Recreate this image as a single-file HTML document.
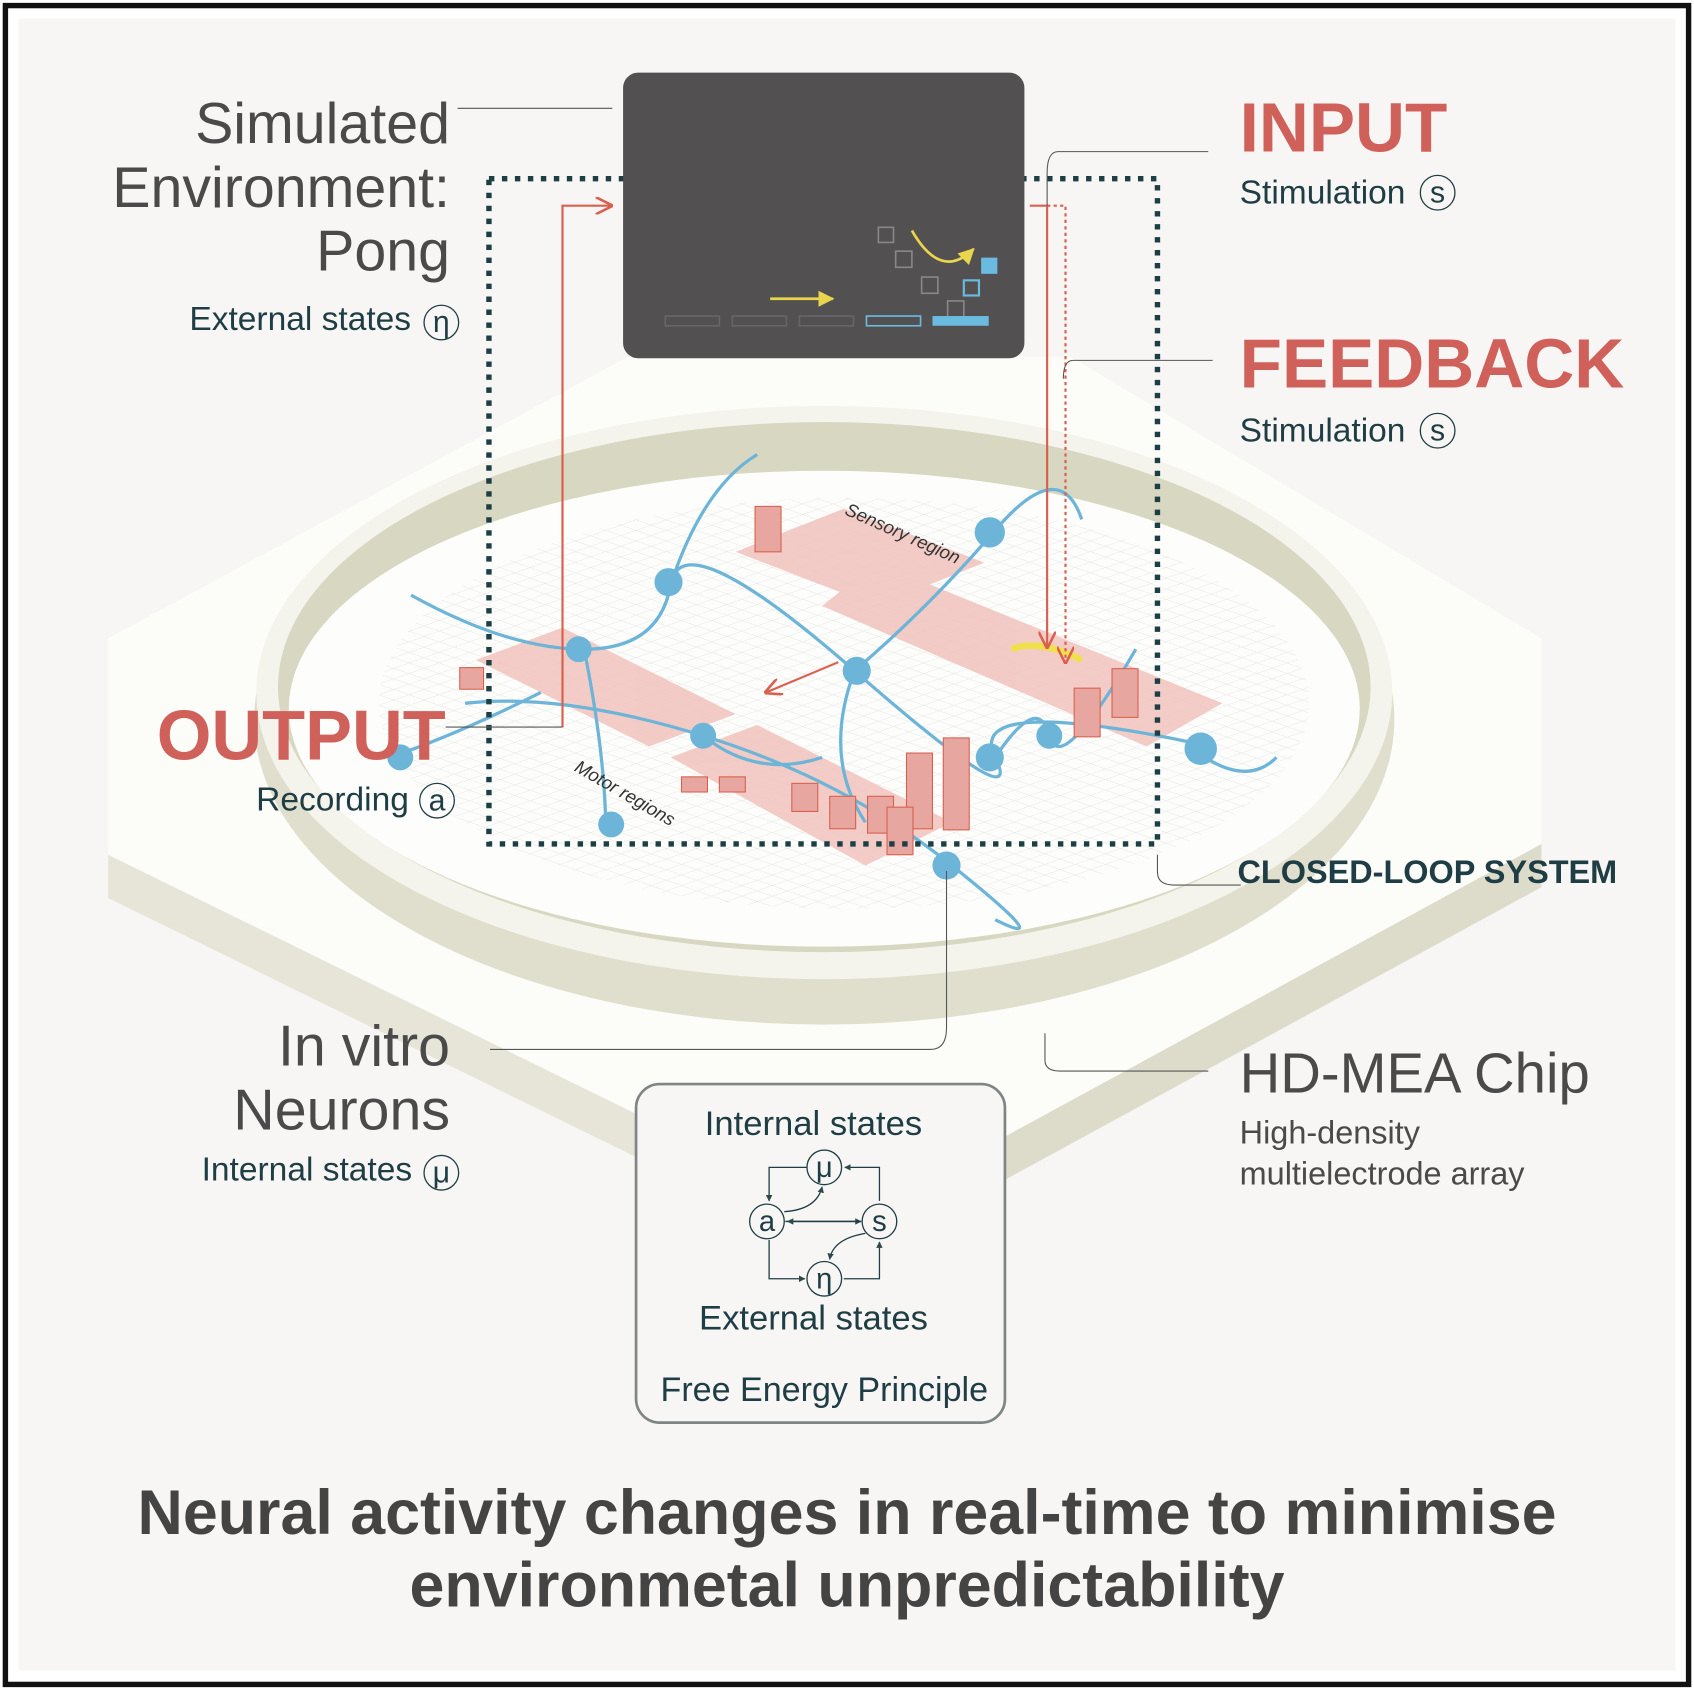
<!DOCTYPE html>
<html><head><meta charset="utf-8"><style>
html,body{margin:0;padding:0;background:#fff}
svg{display:block}
text{font-family:"Liberation Sans",sans-serif}
</style></head><body>
<svg width="1694" height="1690" viewBox="0 0 1566 1562" xmlns="http://www.w3.org/2000/svg">
<defs>
<pattern id="grid" width="14" height="14" patternUnits="userSpaceOnUse" patternTransform="matrix(1,0.35,-1,0.35,0,0)">
<path d="M0 0H14M0 0V14" stroke="#ddd" stroke-width="1" fill="none"/>
</pattern>
<marker id="ar" viewBox="0 0 10 10" refX="9" refY="5" markerWidth="8" markerHeight="8" orient="auto"><path d="M0 0L10 5L0 10" fill="none" stroke="#d9604f" stroke-width="1.5"/></marker>
<marker id="ay" viewBox="0 0 10 10" refX="9" refY="5" markerWidth="6" markerHeight="6" orient="auto"><path d="M0 0L10 5L0 10z" fill="#e8d44d"/></marker>
<marker id="ak" viewBox="0 0 10 10" refX="9" refY="5" markerWidth="5" markerHeight="5" orient="auto"><path d="M0 0L10 5L0 10z" fill="#2d4a4a"/></marker>
</defs>
<rect x="0" y="0" width="1566" height="1562" fill="#fff"/>
<rect x="5" y="5" width="1556" height="1552" fill="none" stroke="#111" stroke-width="5"/>
<rect x="17" y="17" width="1532" height="1527" fill="#f7f6f4"/>

<g>
<polygon points="100,790 640,1055 640,1095 100,830" fill="#e6e5d8"/>
<polygon points="1425,780 930,1050 930,1090 1425,820" fill="#dddccb"/>
<polygon points="640,1055 930,1050 930,1090 640,1095" fill="#e8e7da"/>
<polygon points="100,590 580,330 990,330 1425,590 1425,780 930,1050 640,1055 100,790" fill="#fcfcf8"/>
</g>
<g>
<ellipse cx="762" cy="665" rx="527" ry="282" fill="#e0dfcd"/>
<ellipse cx="762" cy="640" rx="525" ry="265" fill="#f4f4ec"/>
<ellipse cx="762" cy="635" rx="505" ry="245" fill="#d8d7c2"/>
<ellipse cx="762" cy="655" rx="495" ry="220" fill="#fdfdfb"/>
<ellipse cx="780" cy="650" rx="430" ry="190" fill="url(#grid)" opacity="0.9"/>
</g>
<g fill="#f2c3bd" opacity="0.85">
<polygon points="680,510 780,470 910,520 810,560"/>
<polygon points="810,520 1130,650 1060,690 760,560"/>
<polygon points="440,610 520,580 680,660 600,690"/>
<polygon points="620,700 700,670 880,760 800,800"/>
</g>
<g stroke="#6cb5d8" stroke-width="3" fill="none">
<path d="M380,550 Q470,600 540,600 T620,540 T790,620 T920,700 T1120,690"/>
<path d="M430,650 Q520,640 650,680 T880,800 T920,850"/>
<path d="M620,540 Q650,450 700,420 M790,620 Q860,560 920,490 T1000,480"/>
<path d="M540,600 Q560,700 560,770 M650,680 Q700,720 760,700"/>
<path d="M920,700 Q960,640 970,680 T1050,600 M1100,690 Q1150,730 1180,700"/>
<path d="M360,700 Q420,680 500,640 M790,620 Q760,700 800,760"/>
</g>
<g fill="#6cb5d8">
<circle cx="535" cy="600" r="12"/><circle cx="618" cy="538" r="13"/><circle cx="792" cy="620" r="13"/>
<circle cx="650" cy="680" r="12"/><circle cx="915" cy="700" r="13"/><circle cx="970" cy="680" r="12"/>
<circle cx="1110" cy="692" r="15"/><circle cx="915" cy="492" r="14"/><circle cx="875" cy="800" r="13"/>
<circle cx="565" cy="762" r="12"/><circle cx="370" cy="700" r="12"/>
</g>
<g fill="#e8a6a0" stroke="#d9604f" stroke-width="1">
<rect x="698" y="468" width="24" height="42"/><rect x="425" y="617" width="22" height="20"/>
<rect x="993" y="636" width="24" height="45"/><rect x="1028" y="618" width="24" height="45"/>
<rect x="838" y="696" width="24" height="70"/><rect x="872" y="682" width="24" height="85"/>
<rect x="732" y="724" width="24" height="26"/><rect x="767" y="736" width="24" height="30"/>
<rect x="802" y="736" width="24" height="34"/><rect x="820" y="746" width="24" height="44"/>
<rect x="630" y="718" width="24" height="14"/><rect x="665" y="718" width="24" height="14"/>
</g>
<path d="M935,600 Q960,590 1000,610" stroke="#f0e04b" stroke-width="6" fill="none"/>
<text x="780" y="475" font-size="17" font-style="italic" fill="#333" transform="rotate(24 780 475)">Sensory region</text>
<text x="530" y="712" font-size="17" font-style="italic" fill="#333" transform="rotate(30 530 712)">Motor regions</text>
<path d="M775,612 L708,640" stroke="#d9604f" stroke-width="2" marker-end="url(#ar)"/>

<rect x="452" y="165" width="618" height="615" fill="none" stroke="#1d3f44" stroke-width="5" stroke-dasharray="5 7"/>

<g>
<rect x="576" y="67" width="371" height="264" rx="14" fill="#525050"/>
<path d="M812,210 l14,0 0,14 -14,0z M828,232 l15,0 0,15 -15,0z M852,256 l15,0 0,15 -15,0z M876,278 l15,0 0,15 -15,0z" fill="none" stroke="#888" stroke-width="1.5"/>
<rect x="891" y="259" width="14" height="14" fill="none" stroke="#6bbbe0" stroke-width="2"/>
<rect x="907" y="238" width="15" height="15" fill="#6bbbe0"/>
<rect x="862" y="292" width="52" height="9" fill="#6bbbe0"/>
<path d="M615,292h50v9h-50z M677,292h50v9h-50z M739,292h50v9h-50z" fill="none" stroke="#666" stroke-width="1.5"/>
<rect x="801" y="292" width="50" height="9" fill="none" stroke="#6bbbe0" stroke-width="1.5"/>
<path d="M712,276 H770" stroke="#e8d44d" stroke-width="2.5" marker-end="url(#ay)"/>
<path d="M843,213 Q870,260 900,230" stroke="#e8d44d" stroke-width="2.5" fill="none" marker-end="url(#ay)"/>
</g>

<g fill="none" stroke="#d9604f" stroke-width="2">
<path d="M520,672 V190 H565" marker-end="url(#ar)"/>
<path d="M952,190 H968 V598" marker-end="url(#ar)"/>
<path d="M968,190 H985 V612" stroke-dasharray="3 3" marker-end="url(#ar)"/>
</g>
<g fill="none" stroke="#555" stroke-width="1">
<path d="M423,100 H566"/>
<path d="M1117,140 H978 Q968,140 968,160 V190"/>
<path d="M1121,333 H992 Q983,333 983,350"/>
<path d="M412,672 H520"/>
<path d="M1070,790 V806 Q1070,818 1085,818 H1147"/>
<path d="M453,970 H860 Q875,970 875,950 V805"/>
<path d="M966,955 V980 Q966,990 980,990 H1117"/>
</g>

<g fill="#4a4a4a">
<text x="416" y="132" font-size="53" text-anchor="end">Simulated</text>
<text x="416" y="191" font-size="53" text-anchor="end">Environment:</text>
<text x="416" y="250" font-size="53" text-anchor="end">Pong</text>
<text x="416" y="985" font-size="53" text-anchor="end">In vitro</text>
<text x="416" y="1044" font-size="53" text-anchor="end">Neurons</text>
<text x="1146" y="1010" font-size="52">HD-MEA Chip</text>
<text x="1146" y="1057" font-size="30">High-density</text>
<text x="1146" y="1095" font-size="30">multielectrode array</text>
</g>
<g fill="#d0605a" font-weight="bold">
<text x="1146" y="140" font-size="64">INPUT</text>
<text x="1146" y="358" font-size="64">FEEDBACK</text>
<text x="412" y="702" font-size="65" text-anchor="end">OUTPUT</text>
</g>
<g fill="#1f3d44" font-size="31">
<text x="380" y="305" text-anchor="end">External states</text>
<text x="1146" y="188">Stimulation</text>
<text x="1146" y="408">Stimulation</text>
<text x="378" y="749" text-anchor="end">Recording</text>
<text x="381" y="1091" text-anchor="end">Internal states</text>
<text x="1144" y="816" font-size="30" font-weight="bold">CLOSED-LOOP SYSTEM</text>
</g>
<g fill="none" stroke="#1f3d44" stroke-width="1.2">
<circle cx="408" cy="298" r="16"/><circle cx="1329" cy="178" r="16"/><circle cx="1329" cy="398" r="16"/>
<circle cx="404" cy="740" r="16"/><circle cx="408" cy="1084" r="16"/>
</g>
<g fill="#1f3d44" font-size="28" text-anchor="middle" font-family="Liberation Serif">
<text x="408" y="307" font-family="Liberation Serif">η</text>
<text x="1329" y="187">s</text>
<text x="1329" y="407">s</text>
<text x="404" y="749">a</text>
<text x="408" y="1093" font-family="Liberation Serif">μ</text>
</g>

<g>
<rect x="588" y="1002" width="341" height="313" rx="22" fill="#f7f6f4" stroke="#7d8585" stroke-width="2.5"/>
<text x="752" y="1049" font-size="32" fill="#1f3d44" text-anchor="middle">Internal states</text>
<text x="752" y="1229" font-size="32" fill="#1f3d44" text-anchor="middle">External states</text>
<text x="762" y="1295" font-size="31.5" fill="#1f3d44" text-anchor="middle">Free Energy Principle</text>
<g fill="none" stroke="#1f3d44" stroke-width="1.2">
<circle cx="762" cy="1079" r="16"/><circle cx="709" cy="1129" r="16"/><circle cx="813" cy="1129" r="16"/><circle cx="762" cy="1182" r="16"/>
<path d="M746,1079 H711 V1110" marker-end="url(#ak)"/>
<path d="M813,1110 V1079 H781" marker-end="url(#ak)"/>
<path d="M726,1129 H796" marker-end="url(#ak)"/>
<path d="M796,1129 H728" marker-end="url(#ak)"/>
<path d="M725,1120 Q755,1118 760,1097" marker-end="url(#ak)"/>
<path d="M800,1140 Q770,1145 767,1164" marker-end="url(#ak)"/>
<path d="M711,1146 V1182 H744" marker-end="url(#ak)"/>
<path d="M780,1182 H813 V1148" marker-end="url(#ak)"/>
</g>
<g font-size="27" fill="#1f3d44" text-anchor="middle" font-family="Liberation Serif">
<text x="762" y="1088">μ</text><text x="709" y="1138">a</text>
<text x="813" y="1138">s</text><text x="762" y="1191">η</text>
</g>
</g>

<text x="783" y="1418" font-size="58" font-weight="bold" fill="#444" text-anchor="middle">Neural activity changes in real-time to minimise</text>
<text x="783" y="1485" font-size="58" font-weight="bold" fill="#444" text-anchor="middle">environmetal unpredictability</text>
</svg>
</body></html>
